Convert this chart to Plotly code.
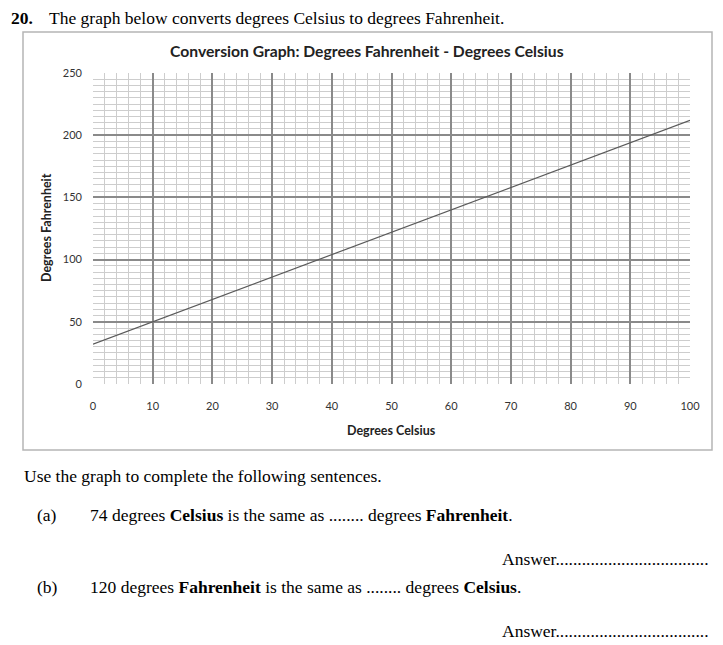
import plotly.graph_objects as go

# chart values
celsius = [0, 100]
fahrenheit = [32, 212]
x_ticks = [0, 10, 20, 30, 40, 50, 60, 70, 80, 90, 100]
y_ticks = [0, 50, 100, 150, 200, 250]

OFF = 8  # page body margin of the browser
W, H = 723 - OFF, 645 - OFF
# plot area in reference pixels
L, R, T, B = 93, 690, 73, 384


def px(x, y):
    # reference pixel position -> paper coordinates
    return (x - L) / (R - L), (B - y) / (B - T)


serif = "Liberation Serif"
sans = "Lato"

fig = go.Figure()
fig.add_trace(go.Scatter(
    x=celsius, y=fahrenheit, mode="lines",
    line=dict(color="#5a5a5a", width=1.2),
    hoverinfo="skip", showlegend=False,
))

axis_common = dict(
    showline=False, zeroline=False, ticks="",
    tickfont=dict(family=sans, size=11, color="#333"),
)
fig.update_xaxes(
    range=[0, 100], tickvals=x_ticks, ticktext=[str(v) for v in x_ticks],
    showgrid=True, gridcolor="#8a8a8a", gridwidth=1.7,
    minor=dict(dtick=2, showgrid=True, gridcolor="#cdcdcd", gridwidth=1),
    ticklabelstandoff=14, **axis_common,
)
fig.update_yaxes(
    range=[0, 250], tickvals=y_ticks, ticktext=[str(v) for v in y_ticks],
    showgrid=True, gridcolor="#8a8a8a", gridwidth=1.7,
    minor=dict(dtick=5, showgrid=True, gridcolor="#cdcdcd", gridwidth=1),
    ticklabelstandoff=10, **axis_common,
)

notes = []


def note(text, x, y, size=17.5, family=serif, xanchor="left", color="#000", angle=0):
    xp, yp = px(x, y)
    notes.append(dict(
        text=text, x=xp, y=yp, xref="paper", yref="paper", showarrow=False,
        xanchor=xanchor, yanchor="middle", textangle=angle,
        font=dict(family=family, size=size, color=color),
    ))


note("<b>20.</b>", 9, 18)
note("The graph below converts degrees Celsius to degrees Fahrenheit.", 47, 18)
note("<b>Conversion Graph: Degrees Fahrenheit - Degrees Celsius</b>", 367, 51,
     size=15.7, family=sans, xanchor="center", color="#222")
note("<b>Degrees Celsius</b>", 391, 430, size=12.5, family=sans,
     xanchor="center", color="#222")
note("<b>Degrees Fahrenheit</b>", 46, 228, size=12.5, family=sans,
     xanchor="center", color="#222", angle=-90)
note("Use the graph to complete the following sentences.", 22, 476)
note("(a)", 35, 515)
note("74 degrees <b>Celsius</b> is the same as ........ degrees <b>Fahrenheit</b>.", 88, 515)
note("Answer...................................", 711, 559, xanchor="right")
note("(b)", 35, 587)
note("120 degrees <b>Fahrenheit</b> is the same as ........ degrees <b>Celsius</b>.", 88, 587)
note("Answer...................................", 711, 631, xanchor="right")

x0, y0 = px(23, 450)
x1, y1 = px(712, 32)
fig.add_shape(type="rect", xref="paper", yref="paper", x0=x0, y0=y0, x1=x1, y1=y1,
              line=dict(color="#b5b5b5", width=1.5), layer="below")

fig.update_layout(
    width=W, height=H,
    margin=dict(l=L - OFF, r=723 - R, t=T - OFF, b=645 - B, pad=0),
    paper_bgcolor="white", plot_bgcolor="white",
    annotations=notes, showlegend=False,
)

fig.write_html("out.html")
